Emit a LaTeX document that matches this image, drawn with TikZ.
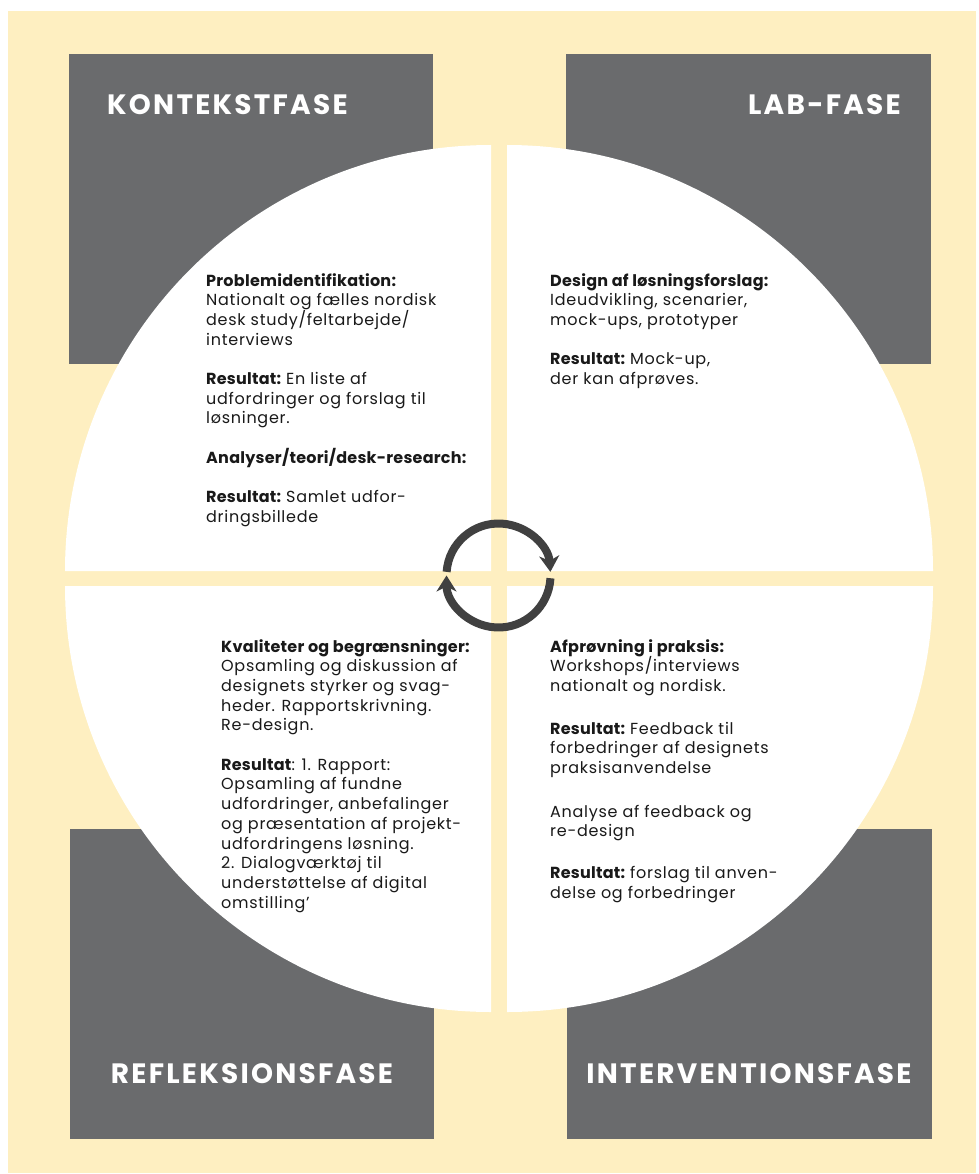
\documentclass[tikz,border=0pt]{standalone}
\usepackage{fontspec}
\setmainfont{Poppins}[LetterSpace=4.5, BoldFeatures={LetterSpace=1.5}]
\newfontfamily\titlefont{Poppins}[LetterSpace=8]
\usetikzlibrary{arrows.meta}
\newcommand\mylabel[1]{\textbf{#1}\kern-2pt\relax}
\definecolor{bgyellow}{RGB}{254,239,193}
\definecolor{boxgray}{RGB}{106,107,109}
\definecolor{cyclegray}{RGB}{64,64,64}
\definecolor{txtcol}{RGB}{25,25,25}
\tikzset{
  phasebox/.style={fill=boxgray},
  quarterdisk/.style={fill=white},
  phasetitle/.style={text=white, inner sep=0pt, font=\titlefont\fontsize{28}{30}\selectfont\bfseries},
  bodytext/.style={text=txtcol, align=left, inner sep=0pt, font=\fontsize{16}{19.7}\selectfont},
  cyclearc/.style={draw=cyclegray, line width=8pt, -{Stealth[length=16pt,width=20pt,inset=5pt]}}
}
\begin{document}
\begin{tikzpicture}[x=1pt,y=-1pt]
\useasboundingbox (0,0) rectangle (978,1174);
\fill[white] (0,0) rectangle (978,1174);
\fill[bgyellow] (8,11) rectangle (976,1173);
% phase boxes
\fill[phasebox] (69,54) rectangle (433,364);
\fill[phasebox] (566,54) rectangle (931,364);
\fill[phasebox] (70,829) rectangle (434,1139);
\fill[phasebox] (567,829) rectangle (932,1139);
% quarter disks
\fill[quarterdisk] (491,571) -- (491,145) arc[start angle=-90, end angle=-180, radius=426] -- cycle;
\fill[quarterdisk] (507,571) -- (507,145) arc[start angle=-90, end angle=0, radius=426] -- cycle;
\fill[quarterdisk] (491,586) -- (65,586) arc[start angle=180, end angle=90, radius=426] -- cycle;
\fill[quarterdisk] (507,586) -- (933,586) arc[start angle=0, end angle=90, radius=426] -- cycle;
% cycle arrows
\coordinate (cyc) at (498.5,575.5);
\draw[cyclearc] ([shift={(-176:52)}]cyc) arc[start angle=-176, end angle=-4, radius=52];
\draw[cyclearc] ([shift={(3:52)}]cyc) arc[start angle=3, end angle=180, radius=52];
% titles
\node[phasetitle, anchor=base west] (t1) at (107,115) {KONTEKSTFASE};
\node[phasetitle, anchor=base east] (t2) at (901,115) {LAB-FASE};
\node[phasetitle, anchor=base] (t3) at (252,1083) {REFLEKSIONSFASE};
\node[phasetitle, anchor=base] (t4) at (749,1083) {INTERVENTIONSFASE};
% texts
\node[bodytext, anchor=north west] (q1) at (206,273) {\textbf{Problemidentifikation:}\\
Nationalt og fælles nordisk\\
desk study/feltarbejde/\\
interviews\\[19.7pt]
\mylabel{Resultat:} En liste af\\
udfordringer og forslag til\\
løsninger.\\[19.7pt]
\textbf{Analyser/teori/desk-research:}\\[19.7pt]
\mylabel{Resultat:} Samlet udfor-\\
dringsbillede};
\node[bodytext, anchor=north west] (q2) at (550,273) {\textbf{Design af løsningsforslag:}\\
Ideudvikling, scenarier,\\
mock-ups, prototyper\\[19.7pt]
\mylabel{Resultat:} Mock-up,\\
der kan afprøves.};
\node[bodytext, anchor=north west] (q3) at (221,639) {\textbf{Kvaliteter og begrænsninger:}\\
Opsamling og diskussion af\\
designets styrker og svag-\\
heder. Rapportskrivning.\\
Re-design.\\[19.7pt]
\textbf{Resultat}: 1. Rapport:\\
Opsamling af fundne\\
udfordringer, anbefalinger\\
og præsentation af projekt-\\
udfordringens løsning.\\
2. Dialogværktøj til\\
understøttelse af digital\\
omstilling’};
\node[bodytext, anchor=north west] (q4) at (550,639) {\textbf{Afprøvning i praksis:}\\
Workshops/interviews\\
nationalt og nordisk.\\[23pt]
\mylabel{Resultat:} Feedback til\\
forbedringer af designets\\
praksisanvendelse\\[24pt]
Analyse af feedback og\\
re-design\\[22pt]
\mylabel{Resultat:} forslag til anven-\\
delse og forbedringer};
\end{tikzpicture}
\end{document}
